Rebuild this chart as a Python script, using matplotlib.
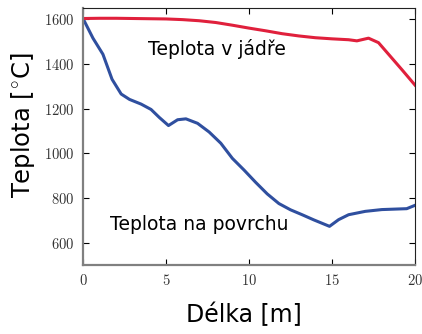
import matplotlib
matplotlib.use("Agg")
import matplotlib.pyplot as plt

# Teplota v jadre (red)
core_x = [0, 1, 2, 3, 4, 5, 6, 7, 8, 9, 10, 11, 12, 13, 14, 15, 16, 16.5, 17.2, 17.8, 18.5, 19.2, 20]
core_y = [1603, 1604, 1604, 1603, 1602, 1601, 1598, 1593, 1585, 1573, 1560, 1548, 1535, 1525,
          1517, 1512, 1508, 1503, 1515, 1495, 1435, 1375, 1305]

# Teplota na povrchu (blue)
surf_x = [0, 0.6, 1.2, 1.75, 2.3, 2.8, 3.5, 4.1, 4.6, 5.15, 5.7, 6.2, 6.9, 7.6, 8.3, 9.0,
          9.7, 10.4, 11.1, 11.8, 12.5, 13.2, 13.9, 14.85, 15.4, 16.0, 17.0, 18.0, 19.5, 20]
surf_y = [1603, 1515, 1443, 1331, 1265, 1241, 1220, 1196, 1160, 1124, 1150, 1154, 1134, 1095,
          1045, 977, 925, 870, 818, 775, 747, 725, 702, 673, 703, 725, 740, 748, 752, 767]

xticks = [0, 5, 10, 15, 20]
yticks = [600, 800, 1000, 1200, 1400, 1600]

plt.rcParams['mathtext.fontset'] = 'cm'

W, H = 422, 334
fig = plt.figure(figsize=(W / 100, H / 100), dpi=100)
ax = fig.add_axes([83 / W, 1 - 265 / H, 332 / W, 257 / H])

ax.plot(surf_x, surf_y, color="#2f4f9f", lw=2.2, solid_joinstyle="round")
ax.plot(core_x, core_y, color="#e0203c", lw=2.2, solid_joinstyle="round")

ax.set_xlim(0, 20)
ax.set_ylim(500, 1650)
ax.set_xticks(xticks)
ax.set_yticks(yticks)
ax.set_xticklabels([f"${v}$" for v in xticks], fontsize=10.5)
ax.set_yticklabels([f"${v}$" for v in yticks], fontsize=10.5)
ax.tick_params(direction="in", top=True, right=True, length=4, width=0.8, pad=6,
               labelcolor="#333333")

for side in ["left", "bottom"]:
    ax.spines[side].set_color("#808080")
    ax.spines[side].set_linewidth(1.6)
for side in ["top", "right"]:
    ax.spines[side].set_color("#222222")
    ax.spines[side].set_linewidth(0.8)

fig.text(217 / W, 1 - 49 / H, "Teplota v jádře", fontsize=13.5, ha="center", va="center")
fig.text(199 / W, 1 - 224 / H, "Teplota na povrchu", fontsize=13.5, ha="center", va="center")

ax.set_xlabel("Délka [m]", fontsize=17)
ax.set_ylabel("Teplota [$^{\\circ}$C]", fontsize=17.5)
ax.xaxis.set_label_coords(0.485, -0.145)
ax.yaxis.set_label_coords(-0.14, 0.545)

fig.savefig("out.png", dpi=100)
